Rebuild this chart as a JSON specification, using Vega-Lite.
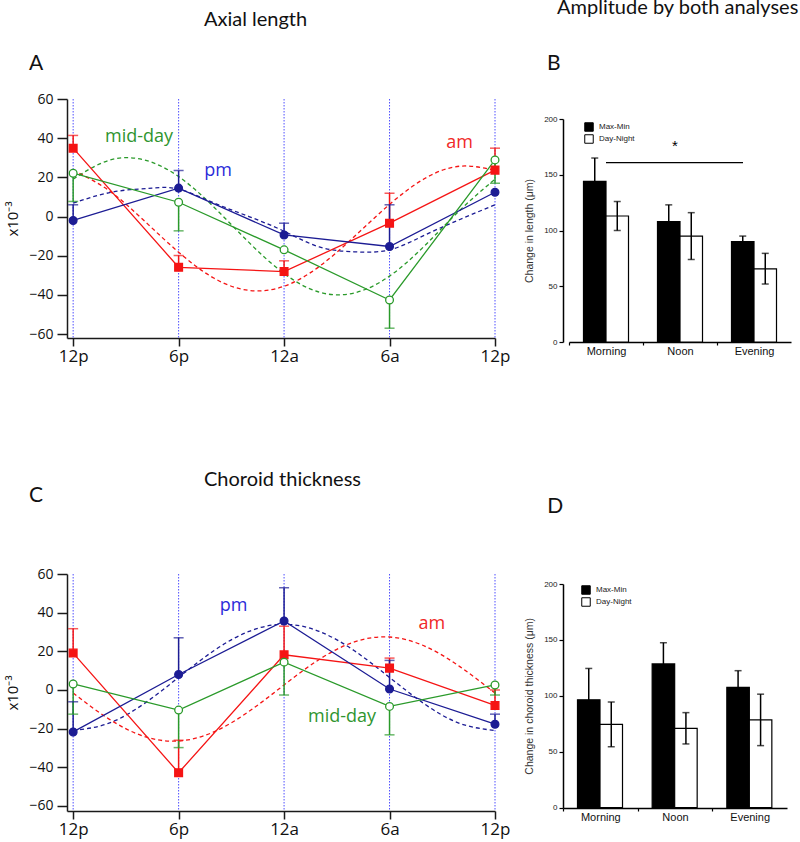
{
  "$schema": "https://vega.github.io/schema/vega-lite/v6.json",
  "background": "white",
  "padding": {"left": 5, "top": -3, "right": 0, "bottom": 4},
  "columns": 2,
  "spacing": {"row": 232, "column": 68},
  "bounds": "flush",
  "align": "each",
  "resolve": {
    "scale": {"fill": "independent", "stroke": "independent", "shape": "independent", "color": "independent"},
    "legend": {"fill": "independent"}
  },
  "datasets": {
    "pts": [
      {"p": "A", "s": "am", "t": 0, "v": 34.9, "e": 41.4},
      {"p": "A", "s": "am", "t": 6, "v": -25.9, "e": -19.9},
      {"p": "A", "s": "am", "t": 12, "v": -28.1, "e": -22.6},
      {"p": "A", "s": "am", "t": 18, "v": -3.4, "e": 11.9},
      {"p": "A", "s": "am", "t": 24, "v": 23.7, "e": 34.9},
      {"p": "A", "s": "pm", "t": 0, "v": -2.0, "e": 6.0},
      {"p": "A", "s": "pm", "t": 6, "v": 14.5, "e": 23.5},
      {"p": "A", "s": "pm", "t": 12, "v": -9.4, "e": -3.4},
      {"p": "A", "s": "pm", "t": 18, "v": -15.3, "e": 6.0},
      {"p": "A", "s": "pm", "t": 24, "v": 12.4, "e": 12.4},
      {"p": "A", "s": "mid-day", "t": 0, "v": 22.1, "e": 7.7},
      {"p": "A", "s": "mid-day", "t": 6, "v": 7.3, "e": -7.3},
      {"p": "A", "s": "mid-day", "t": 12, "v": -17.0, "e": -17.0},
      {"p": "A", "s": "mid-day", "t": 18, "v": -42.6, "e": -57.0},
      {"p": "A", "s": "mid-day", "t": 24, "v": 28.9, "e": 17.0},
      {"p": "C", "s": "am", "t": 0, "v": 19.1, "e": 31.7},
      {"p": "C", "s": "am", "t": 6, "v": -42.8, "e": -26.0},
      {"p": "C", "s": "am", "t": 12, "v": 18.2, "e": 33.0},
      {"p": "C", "s": "am", "t": 18, "v": 11.3, "e": 16.5},
      {"p": "C", "s": "am", "t": 24, "v": -8.0, "e": 0.0},
      {"p": "C", "s": "pm", "t": 0, "v": -21.7, "e": -6.1},
      {"p": "C", "s": "pm", "t": 6, "v": 8.0, "e": 27.0},
      {"p": "C", "s": "pm", "t": 12, "v": 35.7, "e": 52.9},
      {"p": "C", "s": "pm", "t": 18, "v": 0.5, "e": 15.3},
      {"p": "C", "s": "pm", "t": 24, "v": -17.7, "e": -12.5},
      {"p": "C", "s": "mid-day", "t": 0, "v": 3.1, "e": -12.5},
      {"p": "C", "s": "mid-day", "t": 6, "v": -10.4, "e": -29.8},
      {"p": "C", "s": "mid-day", "t": 12, "v": 14.4, "e": -2.6},
      {"p": "C", "s": "mid-day", "t": 18, "v": -8.5, "e": -23.2},
      {"p": "C", "s": "mid-day", "t": 24, "v": 2.6, "e": -2.6}
    ],
    "fits": [
      {"p": "A", "s": "am", "t": 0, "v": 23.6}, {"p": "A", "s": "am", "t": 2, "v": 13.5}, {"p": "A", "s": "am", "t": 4, "v": -1.8},
      {"p": "A", "s": "am", "t": 6, "v": -18.2}, {"p": "A", "s": "am", "t": 8, "v": -31.4}, {"p": "A", "s": "am", "t": 10, "v": -37.7},
      {"p": "A", "s": "am", "t": 12, "v": -35.6}, {"p": "A", "s": "am", "t": 14, "v": -25.5}, {"p": "A", "s": "am", "t": 16, "v": -10.2},
      {"p": "A", "s": "am", "t": 18, "v": 6.2}, {"p": "A", "s": "am", "t": 20, "v": 19.4}, {"p": "A", "s": "am", "t": 22, "v": 25.7},
      {"p": "A", "s": "am", "t": 24, "v": 23.6},
      {"p": "A", "s": "mid-day", "t": 0, "v": 19.1}, {"p": "A", "s": "mid-day", "t": 2, "v": 28.6}, {"p": "A", "s": "mid-day", "t": 4, "v": 29.0},
      {"p": "A", "s": "mid-day", "t": 6, "v": 20.4}, {"p": "A", "s": "mid-day", "t": 8, "v": 4.9}, {"p": "A", "s": "mid-day", "t": 10, "v": -13.2},
      {"p": "A", "s": "mid-day", "t": 12, "v": -29.1}, {"p": "A", "s": "mid-day", "t": 14, "v": -38.6}, {"p": "A", "s": "mid-day", "t": 16, "v": -39.0},
      {"p": "A", "s": "mid-day", "t": 18, "v": -30.4}, {"p": "A", "s": "mid-day", "t": 20, "v": -14.9}, {"p": "A", "s": "mid-day", "t": 22, "v": 3.2},
      {"p": "A", "s": "mid-day", "t": 24, "v": 19.1},
      {"p": "A", "s": "pm", "t": 0, "v": 6.8}, {"p": "A", "s": "pm", "t": 1.5, "v": 11.0}, {"p": "A", "s": "pm", "t": 3, "v": 13.5},
      {"p": "A", "s": "pm", "t": 4.5, "v": 14.5}, {"p": "A", "s": "pm", "t": 6, "v": 14.0}, {"p": "A", "s": "pm", "t": 8, "v": 7.0},
      {"p": "A", "s": "pm", "t": 10, "v": 0.0}, {"p": "A", "s": "pm", "t": 12, "v": -7.5}, {"p": "A", "s": "pm", "t": 14, "v": -15.5},
      {"p": "A", "s": "pm", "t": 16, "v": -18.0}, {"p": "A", "s": "pm", "t": 18, "v": -17.0}, {"p": "A", "s": "pm", "t": 20, "v": -9.5},
      {"p": "A", "s": "pm", "t": 22, "v": -1.5}, {"p": "A", "s": "pm", "t": 24, "v": 6.0},
      {"p": "C", "s": "pm", "t": 0, "v": -21.0}, {"p": "C", "s": "pm", "t": 2, "v": -17.3}, {"p": "C", "s": "pm", "t": 4, "v": -7.3},
      {"p": "C", "s": "pm", "t": 6, "v": 6.5}, {"p": "C", "s": "pm", "t": 8, "v": 20.3}, {"p": "C", "s": "pm", "t": 10, "v": 30.3},
      {"p": "C", "s": "pm", "t": 12, "v": 34.0}, {"p": "C", "s": "pm", "t": 14, "v": 30.3}, {"p": "C", "s": "pm", "t": 16, "v": 20.3},
      {"p": "C", "s": "pm", "t": 18, "v": 6.5}, {"p": "C", "s": "pm", "t": 20, "v": -7.3}, {"p": "C", "s": "pm", "t": 22, "v": -17.3},
      {"p": "C", "s": "pm", "t": 24, "v": -21.0},
      {"p": "C", "s": "am", "t": 0, "v": -1.6}, {"p": "C", "s": "am", "t": 2, "v": -14.8}, {"p": "C", "s": "am", "t": 4, "v": -23.9},
      {"p": "C", "s": "am", "t": 6, "v": -26.4}, {"p": "C", "s": "am", "t": 8, "v": -21.7}, {"p": "C", "s": "am", "t": 10, "v": -11.1},
      {"p": "C", "s": "am", "t": 12, "v": 2.6}, {"p": "C", "s": "am", "t": 14, "v": 15.8}, {"p": "C", "s": "am", "t": 16, "v": 24.9},
      {"p": "C", "s": "am", "t": 18, "v": 27.4}, {"p": "C", "s": "am", "t": 20, "v": 22.7}, {"p": "C", "s": "am", "t": 22, "v": 12.1},
      {"p": "C", "s": "am", "t": 24, "v": -1.6}
    ],
    "bars": [
      {"p": "B", "g": "Morning", "s": "Max-Min", "v": 144, "lo": 123, "hi": 165},
      {"p": "B", "g": "Morning", "s": "Day-Night", "v": 113, "lo": 100, "hi": 126},
      {"p": "B", "g": "Noon", "s": "Max-Min", "v": 108, "lo": 93, "hi": 123},
      {"p": "B", "g": "Noon", "s": "Day-Night", "v": 95, "lo": 74, "hi": 116},
      {"p": "B", "g": "Evening", "s": "Max-Min", "v": 90, "lo": 85, "hi": 95},
      {"p": "B", "g": "Evening", "s": "Day-Night", "v": 65.5, "lo": 52, "hi": 79.5},
      {"p": "D", "g": "Morning", "s": "Max-Min", "v": 96.5, "lo": 68.5, "hi": 124.5},
      {"p": "D", "g": "Morning", "s": "Day-Night", "v": 74.5, "lo": 54.5, "hi": 94.5},
      {"p": "D", "g": "Noon", "s": "Max-Min", "v": 128.5, "lo": 109.5, "hi": 147.5},
      {"p": "D", "g": "Noon", "s": "Day-Night", "v": 71, "lo": 57, "hi": 85},
      {"p": "D", "g": "Evening", "s": "Max-Min", "v": 107.5, "lo": 92.5, "hi": 122.5},
      {"p": "D", "g": "Evening", "s": "Day-Night", "v": 78.5, "lo": 55.5, "hi": 101.5}
    ],
    "hours": [{"t": 0}, {"t": 6}, {"t": 12}, {"t": 18}, {"t": 24}]
  },
  "concat": [
    {
      "width": 428,
      "height": 239,
      "layer": [
        {
          "data": {"name": "hours"},
          "mark": {"type": "rule", "color": "#4f4fff", "strokeWidth": 1, "strokeDash": [1.5, 1.5]},
          "encoding": {
            "x": {"field": "t", "type": "quantitative", "scale": {"domain": [-0.35, 24], "nice": false, "zero": false},
              "axis": {"values": [0, 6, 12, 18, 24], "labelExpr": "datum.value==0||datum.value==24?'12p':datum.value==6?'6p':datum.value==12?'12a':'6a'", "title": null, "tickSize": 8, "tickWidth": 1.5, "domainWidth": 1.5, "domainColor": "#1a1a1a", "tickColor": "#1a1a1a", "labelFont": "Open Sans", "labelFontSize": 17, "labelColor": "#111", "labelPadding": 2, "labelFlush": false, "labelOverlap": false}}
          }
        },
        {
          "data": {"name": "fits"},
          "transform": [{"filter": "datum.p=='A'"}],
          "mark": {"type": "line", "strokeDash": [4, 3], "strokeWidth": 1.3, "interpolate": "natural"},
          "encoding": {
            "x": {"field": "t", "type": "quantitative"},
            "y": {"field": "v", "type": "quantitative", "scale": {"domain": [-62, 60], "nice": false, "zero": false},
              "axis": {"values": [-60, -40, -20, 0, 20, 40, 60], "tickCount": 7, "labelOverlap": false, "labelSeparation": 0, "title": "x10⁻³", "titleFont": "Open Sans", "titleFontSize": 15, "titleFontWeight": "normal", "titleColor": "#111", "titlePadding": 8, "tickSize": 10, "tickWidth": 1.5, "domainWidth": 1.5, "domainColor": "#1a1a1a", "tickColor": "#1a1a1a", "labelFont": "Open Sans", "labelFontSize": 14, "labelColor": "#111", "labelPadding": 4}},
            "color": {"field": "s", "type": "nominal", "scale": {"domain": ["am", "pm", "mid-day"], "range": ["#f51414", "#1c1c94", "#2a9a2a"]}, "legend": null},
            "detail": {"field": "s"}
          }
        },
        {
          "data": {"name": "pts"},
          "transform": [{"filter": "datum.p=='A'"}],
          "mark": {"type": "line", "strokeWidth": 1.3},
          "encoding": {
            "x": {"field": "t", "type": "quantitative"},
            "y": {"field": "v", "type": "quantitative"},
            "color": {"field": "s", "type": "nominal", "legend": null}
          }
        },
        {
          "data": {"name": "pts"},
          "transform": [{"filter": "datum.p=='A'"}],
          "mark": {"type": "rule", "strokeWidth": 1.5},
          "encoding": {
            "x": {"field": "t", "type": "quantitative"},
            "y": {"field": "v", "type": "quantitative"},
            "y2": {"field": "e"},
            "color": {"field": "s", "type": "nominal", "legend": null}
          }
        },
        {
          "data": {"name": "pts"},
          "transform": [{"filter": "datum.p=='A' && datum.e != datum.v"}],
          "mark": {"type": "tick", "orient": "horizontal", "size": 10, "thickness": 1.5},
          "encoding": {
            "x": {"field": "t", "type": "quantitative"},
            "y": {"field": "e", "type": "quantitative"},
            "color": {"field": "s", "type": "nominal", "legend": null}
          }
        },
        {
          "data": {"name": "pts"},
          "transform": [{"filter": "datum.p=='A'"}],
          "mark": {"type": "point", "filled": true, "size": 60, "strokeWidth": 1.3, "opacity": 1},
          "encoding": {
            "x": {"field": "t", "type": "quantitative"},
            "y": {"field": "v", "type": "quantitative"},
            "shape": {"field": "s", "type": "nominal", "scale": {"domain": ["am", "pm", "mid-day"], "range": ["square", "circle", "circle"]}, "legend": null},
            "fill": {"field": "s", "type": "nominal", "scale": {"domain": ["am", "pm", "mid-day"], "range": ["#f51414", "#1c1c94", "#ffffff"]}, "legend": null},
            "stroke": {"field": "s", "type": "nominal", "scale": {"domain": ["am", "pm", "mid-day"], "range": ["#f51414", "#1c1c94", "#2a9a2a"]}, "legend": null}
          }
        },
        {"data": {"values": [{}]}, "mark": {"type": "text", "text": "mid-day", "font": "Open Sans", "fontSize": 18, "color": "#2f952f", "align": "center", "baseline": "alphabetic"}, "encoding": {"x": {"datum": 3.75}, "y": {"datum": 38.0}}},
        {"data": {"values": [{}]}, "mark": {"type": "text", "text": "pm", "font": "Open Sans", "fontSize": 18, "color": "#2b2bd9", "align": "center", "baseline": "alphabetic"}, "encoding": {"x": {"datum": 8.24}, "y": {"datum": 20.8}}},
        {"data": {"values": [{}]}, "mark": {"type": "text", "text": "am", "font": "Open Sans", "fontSize": 18, "color": "#f02828", "align": "center", "baseline": "alphabetic"}, "encoding": {"x": {"datum": 21.98}, "y": {"datum": 35.0}}},
        {"data": {"values": [{}]}, "mark": {"type": "text", "text": "Axial length", "font": "Lato", "fontSize": 20, "color": "#111", "align": "left", "baseline": "alphabetic"}, "encoding": {"x": {"datum": 7.44}, "y": {"datum": 97.3}}},
        {"data": {"values": [{}]}, "mark": {"type": "text", "text": "A", "font": "Lato", "fontSize": 21, "color": "#111", "align": "left", "baseline": "alphabetic"}, "encoding": {"x": {"datum": -2.51}, "y": {"datum": 74.8}}}
      ]
    },
    {
      "width": 228,
      "height": 243,
      "layer": [
        {
          "data": {"name": "bars"},
          "transform": [{"filter": "datum.p=='B'"}],
          "mark": {"type": "bar", "stroke": "#000", "strokeWidth": 1.2},
          "encoding": {
            "x": {"field": "g", "type": "nominal", "scale": {"domain": ["Morning", "Noon", "Evening"], "range": [6, 228], "paddingInner": 0, "paddingOuter": 0},
              "axis": {"title": null, "tickOffset": -37, "labelOffset": 37, "labelAngle": 0, "tickSize": 3, "tickWidth": 1.2, "domainWidth": 1.5, "domainColor": "#000", "tickColor": "#000", "labelFont": "Liberation Sans", "labelFontSize": 11, "labelColor": "#111", "labelPadding": 0}},
            "xOffset": {"field": "s", "type": "nominal", "scale": {"domain": ["Max-Min", "Day-Night"], "paddingInner": 0, "paddingOuter": 0.644}},
            "y": {"field": "v", "type": "quantitative", "scale": {"domain": [0, 200], "range": [243, 20], "nice": false, "zero": false},
              "axis": {"values": [0, 50, 100, 150, 200], "labelOverlap": false, "title": "Change in length (μm)", "titleFont": "Liberation Sans", "titleFontSize": 10.5, "titleFontWeight": "normal", "titleColor": "#333", "titlePadding": 9, "tickSize": 4, "tickWidth": 1.2, "domainWidth": 1.5, "domainColor": "#000", "tickColor": "#000", "labelFont": "Liberation Sans", "labelFontSize": 8, "labelColor": "#222", "labelPadding": 2}},
            "fill": {"field": "s", "type": "nominal", "scale": {"domain": ["Max-Min", "Day-Night"], "range": ["#000000", "#ffffff"]},
              "legend": {"orient": "none", "legendX": 21, "legendY": 23, "title": null, "symbolType": "square", "symbolSize": 72, "symbolStrokeColor": "#000", "symbolStrokeWidth": 1, "labelFont": "Liberation Sans", "labelFontSize": 8, "labelColor": "#222", "labelOffset": 5, "rowPadding": -7, "padding": 0}}
          }
        },
        {
          "data": {"name": "bars"},
          "transform": [{"filter": "datum.p=='B'"}],
          "mark": {"type": "rule", "color": "#000", "strokeWidth": 1.5},
          "encoding": {
            "x": {"field": "g", "type": "nominal"},
            "xOffset": {"field": "s", "type": "nominal"},
            "y": {"field": "lo", "type": "quantitative"},
            "y2": {"field": "hi"}
          }
        },
        {
          "data": {"name": "bars"},
          "transform": [{"filter": "datum.p=='B'"}],
          "mark": {"type": "tick", "orient": "horizontal", "color": "#000", "size": 7, "thickness": 1.5},
          "encoding": {
            "x": {"field": "g", "type": "nominal"},
            "xOffset": {"field": "s", "type": "nominal"},
            "y": {"field": "hi", "type": "quantitative"}
          }
        },
        {
          "data": {"name": "bars"},
          "transform": [{"filter": "datum.p=='B'"}],
          "mark": {"type": "tick", "orient": "horizontal", "color": "#000", "size": 7, "thickness": 1.5},
          "encoding": {
            "x": {"field": "g", "type": "nominal"},
            "xOffset": {"field": "s", "type": "nominal"},
            "y": {"field": "lo", "type": "quantitative"}
          }
        },
        {"data": {"values": [{}]}, "mark": {"type": "rule", "color": "#000", "strokeWidth": 1.2, "x2Offset": -11}, "encoding": {"x": {"datum": "Morning"}, "x2": {"datum": "Evening"}, "y": {"datum": 160.8}}},
        {"data": {"values": [{}]}, "mark": {"type": "text", "text": "*", "font": "Liberation Sans", "fontSize": 15, "color": "#000", "align": "center", "baseline": "middle", "dx": -5}, "encoding": {"x": {"datum": "Noon"}, "y": {"datum": 176}}},
        {"data": {"values": [{}]}, "mark": {"type": "text", "text": "Amplitude by both analyses", "font": "Lato", "fontSize": 20, "color": "#111", "align": "left", "baseline": "alphabetic", "dx": -49}, "encoding": {"x": {"datum": "Morning"}, "y": {"datum": 294.2}}},
        {"data": {"values": [{}]}, "mark": {"type": "text", "text": "B", "font": "Lato", "fontSize": 21, "color": "#111", "align": "left", "baseline": "alphabetic", "dx": -59}, "encoding": {"x": {"datum": "Morning"}, "y": {"datum": 243.9}}}
      ]
    },
    {
      "width": 428,
      "height": 237,
      "layer": [
        {
          "data": {"name": "hours"},
          "mark": {"type": "rule", "color": "#4f4fff", "strokeWidth": 1, "strokeDash": [1.5, 1.5]},
          "encoding": {
            "x": {"field": "t", "type": "quantitative", "scale": {"domain": [-0.35, 24], "nice": false, "zero": false},
              "axis": {"values": [0, 6, 12, 18, 24], "labelExpr": "datum.value==0||datum.value==24?'12p':datum.value==6?'6p':datum.value==12?'12a':'6a'", "title": null, "tickSize": 8, "tickWidth": 1.5, "domainWidth": 1.5, "domainColor": "#1a1a1a", "tickColor": "#1a1a1a", "labelFont": "Open Sans", "labelFontSize": 17, "labelColor": "#111", "labelPadding": 2, "labelFlush": false, "labelOverlap": false}}
          }
        },
        {
          "data": {"name": "fits"},
          "transform": [{"filter": "datum.p=='C'"}],
          "mark": {"type": "line", "strokeDash": [4, 3], "strokeWidth": 1.3, "interpolate": "natural"},
          "encoding": {
            "x": {"field": "t", "type": "quantitative"},
            "y": {"field": "v", "type": "quantitative", "scale": {"domain": [-62.6, 60], "nice": false, "zero": false},
              "axis": {"values": [-60, -40, -20, 0, 20, 40, 60], "tickCount": 7, "labelOverlap": false, "labelSeparation": 0, "title": "x10⁻³", "titleFont": "Open Sans", "titleFontSize": 15, "titleFontWeight": "normal", "titleColor": "#111", "titlePadding": 8, "tickSize": 10, "tickWidth": 1.5, "domainWidth": 1.5, "domainColor": "#1a1a1a", "tickColor": "#1a1a1a", "labelFont": "Open Sans", "labelFontSize": 14, "labelColor": "#111", "labelPadding": 4}},
            "color": {"field": "s", "type": "nominal", "scale": {"domain": ["am", "pm", "mid-day"], "range": ["#f51414", "#1c1c94", "#2a9a2a"]}, "legend": null},
            "detail": {"field": "s"}
          }
        },
        {
          "data": {"name": "pts"},
          "transform": [{"filter": "datum.p=='C'"}],
          "mark": {"type": "line", "strokeWidth": 1.3},
          "encoding": {
            "x": {"field": "t", "type": "quantitative"},
            "y": {"field": "v", "type": "quantitative"},
            "color": {"field": "s", "type": "nominal", "legend": null}
          }
        },
        {
          "data": {"name": "pts"},
          "transform": [{"filter": "datum.p=='C'"}],
          "mark": {"type": "rule", "strokeWidth": 1.5},
          "encoding": {
            "x": {"field": "t", "type": "quantitative"},
            "y": {"field": "v", "type": "quantitative"},
            "y2": {"field": "e"},
            "color": {"field": "s", "type": "nominal", "legend": null}
          }
        },
        {
          "data": {"name": "pts"},
          "transform": [{"filter": "datum.p=='C' && datum.e != datum.v"}],
          "mark": {"type": "tick", "orient": "horizontal", "size": 10, "thickness": 1.5},
          "encoding": {
            "x": {"field": "t", "type": "quantitative"},
            "y": {"field": "e", "type": "quantitative"},
            "color": {"field": "s", "type": "nominal", "legend": null}
          }
        },
        {
          "data": {"name": "pts"},
          "transform": [{"filter": "datum.p=='C'"}],
          "mark": {"type": "point", "filled": true, "size": 60, "strokeWidth": 1.3, "opacity": 1},
          "encoding": {
            "x": {"field": "t", "type": "quantitative"},
            "y": {"field": "v", "type": "quantitative"},
            "shape": {"field": "s", "type": "nominal", "scale": {"domain": ["am", "pm", "mid-day"], "range": ["square", "circle", "circle"]}, "legend": null},
            "fill": {"field": "s", "type": "nominal", "scale": {"domain": ["am", "pm", "mid-day"], "range": ["#f51414", "#1c1c94", "#ffffff"]}, "legend": null},
            "stroke": {"field": "s", "type": "nominal", "scale": {"domain": ["am", "pm", "mid-day"], "range": ["#f51414", "#1c1c94", "#2a9a2a"]}, "legend": null}
          }
        },
        {"data": {"values": [{}]}, "mark": {"type": "text", "text": "pm", "font": "Open Sans", "fontSize": 18, "color": "#2b2bd9", "align": "center", "baseline": "alphabetic"}, "encoding": {"x": {"datum": 9.13}, "y": {"datum": 41.0}}},
        {"data": {"values": [{}]}, "mark": {"type": "text", "text": "am", "font": "Open Sans", "fontSize": 18, "color": "#f02828", "align": "center", "baseline": "alphabetic"}, "encoding": {"x": {"datum": 20.4}, "y": {"datum": 31.4}}},
        {"data": {"values": [{}]}, "mark": {"type": "text", "text": "mid-day", "font": "Open Sans", "fontSize": 18, "color": "#2f952f", "align": "center", "baseline": "alphabetic"}, "encoding": {"x": {"datum": 15.3}, "y": {"datum": -16.4}}},
        {"data": {"values": [{}]}, "mark": {"type": "text", "text": "Choroid thickness", "font": "Lato", "fontSize": 20, "color": "#111", "align": "left", "baseline": "alphabetic"}, "encoding": {"x": {"datum": 7.44}, "y": {"datum": 105.5}}},
        {"data": {"values": [{}]}, "mark": {"type": "text", "text": "C", "font": "Lato", "fontSize": 21, "color": "#111", "align": "left", "baseline": "alphabetic"}, "encoding": {"x": {"datum": -2.51}, "y": {"datum": 97.2}}}
      ]
    },
    {
      "width": 224,
      "height": 234,
      "layer": [
        {
          "data": {"name": "bars"},
          "transform": [{"filter": "datum.p=='D'"}],
          "mark": {"type": "bar", "stroke": "#000", "strokeWidth": 1.2},
          "encoding": {
            "x": {"field": "g", "type": "nominal", "scale": {"domain": ["Morning", "Noon", "Evening"], "paddingInner": 0, "paddingOuter": 0},
              "axis": {"title": null, "tickOffset": -37.3, "labelOffset": 37.3, "labelAngle": 0, "tickSize": 3, "tickWidth": 1.2, "domainWidth": 1.5, "domainColor": "#000", "tickColor": "#000", "labelFont": "Liberation Sans", "labelFontSize": 11, "labelColor": "#111", "labelPadding": 0}},
            "xOffset": {"field": "s", "type": "nominal", "scale": {"domain": ["Max-Min", "Day-Night"], "paddingInner": 0, "paddingOuter": 0.64}},
            "y": {"field": "v", "type": "quantitative", "scale": {"domain": [0, 200], "range": [233.7, 10], "nice": false, "zero": false},
              "axis": {"values": [0, 50, 100, 150, 200], "labelOverlap": false, "title": "Change in choroid thickness (μm)", "titleFont": "Liberation Sans", "titleFontSize": 10.5, "titleFontWeight": "normal", "titleColor": "#333", "titlePadding": 9, "tickSize": 4, "tickWidth": 1.2, "domainWidth": 1.5, "domainColor": "#000", "tickColor": "#000", "labelFont": "Liberation Sans", "labelFontSize": 8, "labelColor": "#222", "labelPadding": 2}},
            "fill": {"field": "s", "type": "nominal", "scale": {"domain": ["Max-Min", "Day-Night"], "range": ["#000000", "#ffffff"]},
              "legend": {"orient": "none", "legendX": 18, "legendY": 11, "title": null, "symbolType": "square", "symbolSize": 72, "symbolStrokeColor": "#000", "symbolStrokeWidth": 1, "labelFont": "Liberation Sans", "labelFontSize": 8, "labelColor": "#222", "labelOffset": 5, "rowPadding": -7, "padding": 0}}
          }
        },
        {
          "data": {"name": "bars"},
          "transform": [{"filter": "datum.p=='D'"}],
          "mark": {"type": "rule", "color": "#000", "strokeWidth": 1.5},
          "encoding": {
            "x": {"field": "g", "type": "nominal"},
            "xOffset": {"field": "s", "type": "nominal"},
            "y": {"field": "lo", "type": "quantitative"},
            "y2": {"field": "hi"}
          }
        },
        {
          "data": {"name": "bars"},
          "transform": [{"filter": "datum.p=='D'"}],
          "mark": {"type": "tick", "orient": "horizontal", "color": "#000", "size": 7, "thickness": 1.5},
          "encoding": {
            "x": {"field": "g", "type": "nominal"},
            "xOffset": {"field": "s", "type": "nominal"},
            "y": {"field": "hi", "type": "quantitative"}
          }
        },
        {
          "data": {"name": "bars"},
          "transform": [{"filter": "datum.p=='D'"}],
          "mark": {"type": "tick", "orient": "horizontal", "color": "#000", "size": 7, "thickness": 1.5},
          "encoding": {
            "x": {"field": "g", "type": "nominal"},
            "xOffset": {"field": "s", "type": "nominal"},
            "y": {"field": "lo", "type": "quantitative"}
          }
        },
        {"data": {"values": [{}]}, "mark": {"type": "text", "text": "D", "font": "Lato", "fontSize": 21, "color": "#111", "align": "left", "baseline": "alphabetic", "dx": -53}, "encoding": {"x": {"datum": "Morning"}, "y": {"datum": 263.5}}}
      ]
    }
  ],
  "config": {
    "view": {"stroke": null},
    "axis": {"grid": false, "labelOverlap": false},
    "axisY": {"labelOverlap": false}
  }
}
